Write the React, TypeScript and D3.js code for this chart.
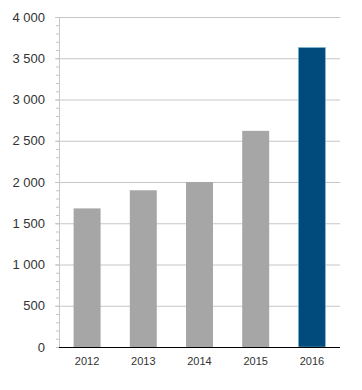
import React, { useEffect, useRef } from 'react';
import * as d3 from 'd3';

const YEARS = ['2012', '2013', '2014', '2015', '2016'];
const VALUES = [1680, 1900, 2000, 2620, 3630];
const COLORS = ['#a6a6a6', '#a6a6a6', '#a6a6a6', '#a6a6a6', '#004b7c'];
const Y_TICKS = [0, 500, 1000, 1500, 2000, 2500, 3000, 3500, 4000];

export default function App() {
  const ref = useRef<SVGSVGElement>(null);

  useEffect(() => {
    const svg = d3.select(ref.current);
    svg.selectAll('*').remove();
    const W = 362, H = 390, m = { t: 17, r: 22, b: 43, l: 59 };

    const x = d3.scaleBand().domain(YEARS).range([m.l, W - m.r]).paddingInner(0.52).paddingOuter(0.26);
    const y = d3.scaleLinear().domain([0, 4000]).range([H - m.b, m.t]);

    // minor ticks
    svg.append('g').selectAll('line').data(d3.range(0, 4001, 100)).join('line')
      .attr('x1', m.l - 3).attr('x2', m.l).attr('y1', d => y(d) + 0.5).attr('y2', d => y(d) + 0.5)
      .attr('stroke', '#c4c4c4').attr('stroke-width', 1);

    // y axis line
    svg.append('line').attr('x1', m.l + 0.5).attr('x2', m.l + 0.5).attr('y1', m.t).attr('y2', H - m.b)
      .attr('stroke', '#c8c8c8');

    // gridlines
    svg.append('g').selectAll('line').data(Y_TICKS.filter(d => d > 0)).join('line')
      .attr('x1', m.l - 4).attr('x2', W - m.r).attr('y1', d => y(d) + 0.5).attr('y2', d => y(d) + 0.5)
      .attr('stroke', '#c6c6c6').attr('stroke-width', 1);

    // y labels
    const fmt = (v: number) => d3.format(',')(v).replace(/,/g, ' ');
    svg.append('g').selectAll('text').data(Y_TICKS).join('text')
      .attr('x', 45).attr('y', d => y(d)).attr('dy', '0.35em').attr('text-anchor', 'end')
      .attr('font-family', 'Liberation Sans, Arial, sans-serif').attr('font-size', 13).attr('fill', '#333')
      .text(d => fmt(d));

    // bars
    svg.append('g').selectAll('rect').data(VALUES).join('rect')
      .attr('x', (d, i) => x(YEARS[i])!).attr('width', x.bandwidth())
      .attr('y', d => y(d)).attr('height', d => y(0) - y(d))
      .attr('fill', (d, i) => COLORS[i])
      .attr('stroke', (d, i) => i === 4 ? '#7fb8d8' : 'none').attr('stroke-width', 0.6);

    // x axis line
    svg.append('line').attr('x1', m.l).attr('x2', W - m.r).attr('y1', y(0) + 0.5).attr('y2', y(0) + 0.5)
      .attr('stroke', '#000').attr('stroke-width', 1);

    // x labels
    svg.append('g').selectAll('text').data(YEARS).join('text')
      .attr('x', d => x(d)! + x.bandwidth() / 2).attr('y', y(0) + 18).attr('text-anchor', 'middle')
      .attr('font-family', 'Liberation Sans, Arial, sans-serif').attr('font-size', 11).attr('fill', '#333')
      .text(d => d);
  }, []);

  return (
    <svg ref={ref} width={362} height={390}
      style={{ position: 'absolute', left: 0, top: 0, background: '#fff' }} />
  );
}
